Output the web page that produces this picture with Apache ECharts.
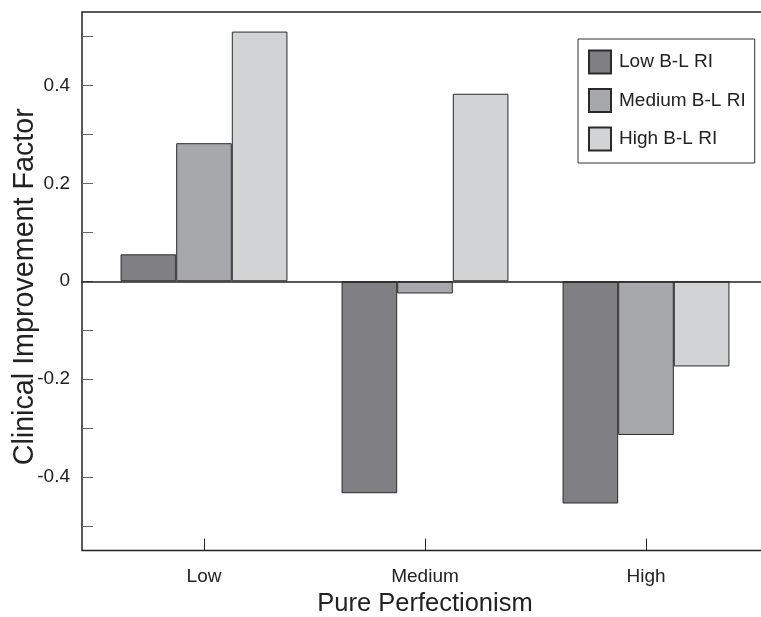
<!DOCTYPE html>
<html>
<head>
<meta charset="utf-8">
<script src="https://cdn.jsdelivr.net/npm/echarts@6/dist/echarts.min.js"></script>
<style>
  html, body { margin: 0; padding: 0; background: #fff; }
  #chart { width: 761px; height: 617px; }
</style>
</head>
<body>
<div id="chart"></div>
<script>
// Pure perfectionism groups on the x axis
const categories = ['Low', 'Medium', 'High'];

// Clinical improvement factor per B-L RI level
const lowBLRI = [0.055, -0.433, -0.454];
const mediumBLRI = [0.282, -0.025, -0.314];
const highBLRI = [0.510, 0.383, -0.174];

const seriesNames = ['Low B-L RI', 'Medium B-L RI', 'High B-L RI'];

// y axis: minor ticks every 0.1, labels every 0.2
const yTicks = [-0.5, -0.4, -0.3, -0.2, -0.1, 0, 0.1, 0.2, 0.3, 0.4, 0.5];
const yLabels = [-0.4, -0.2, 0, 0.2, 0.4];
const yMin = -0.55;
const yMax = 0.55;

const FONT = "'Liberation Sans', Arial, Helvetica, sans-serif";
const INK = '#222';
const fills = ['#808084', '#a7a8ab', '#d2d3d5'];

const chart = echarts.init(document.getElementById('chart'), null, { renderer: 'canvas' });

function barSeries(name, data, color) {
  return {
    name: name,
    type: 'bar',
    xAxisIndex: 1,
    yAxisIndex: 1,
    data: data,
    barGap: '0%',
    barCategoryGap: '24.5%',
    itemStyle: { color: color, borderColor: '#2a2a2a', borderWidth: 1 },
    emphasis: { disabled: true },
    z: 2
  };
}

chart.setOption({
  animation: false,
  backgroundColor: '#fff',
  textStyle: { fontFamily: FONT, color: INK },
  grid: [
    // frame with the y axis and zero line
    { left: 82, top: 12, width: 686, height: 538.5, show: true, borderColor: INK, borderWidth: 1.5,
      backgroundColor: 'transparent', outerBoundsMode: 'none', containLabel: false },
    // bar plotting area
    { left: 93.5, top: 12, width: 663, height: 538.5, outerBoundsMode: 'none', containLabel: false }
  ],
  xAxis: [
    {
      gridIndex: 0, type: 'value', min: 0, max: 1,
      axisLine: { show: true, onZero: true, lineStyle: { color: INK, width: 1.5 } },
      axisTick: { show: false }, axisLabel: { show: false }, splitLine: { show: false },
      z: 5
    },
    {
      gridIndex: 1, type: 'category', data: categories, position: 'bottom',
      axisLine: { show: false, onZero: false },
      axisTick: { show: true, inside: true, alignWithLabel: true, length: 12,
                  lineStyle: { color: INK, width: 1 } },
      axisLabel: { fontSize: 19, color: INK, margin: 17, fontFamily: FONT },
      splitLine: { show: false },
      name: 'Pure Perfectionism', nameLocation: 'middle', nameGap: 40, nameMoveOverlap: false,
      nameTextStyle: { fontSize: 25.5, color: INK, fontFamily: FONT }
    }
  ],
  yAxis: [
    {
      gridIndex: 0, type: 'value', min: yMin, max: yMax,
      axisLine: { show: false },
      axisTick: { show: true, inside: true, length: 11, customValues: yTicks,
                  lineStyle: { color: '#666', width: 1 } },
      axisLabel: { show: true, customValues: yLabels, fontSize: 19, color: INK, margin: 12,
                   fontFamily: FONT,
                   formatter: function (v) { return Math.abs(v) < 1e-9 ? '0' : String(Math.round(v * 10) / 10); } },
      splitLine: { show: false },
      name: 'Clinical Improvement Factor', nameLocation: 'middle', nameGap: 42, nameMoveOverlap: false,
      nameTextStyle: { fontSize: 28.7, color: INK, fontFamily: FONT, padding: [0, 11, 0, 0] }
    },
    {
      gridIndex: 1, type: 'value', min: yMin, max: yMax, show: false,
      splitLine: { show: false }
    }
  ],
  legend: {
    orient: 'vertical',
    left: 578, top: 39,
    data: seriesNames,
    icon: 'rect',
    itemWidth: 22, itemHeight: 23, itemGap: 13.5,
    padding: [10.5, 9, 11.5, 10],
    borderColor: '#333', borderWidth: 1,
    backgroundColor: '#fff',
    textStyle: { fontSize: 19, color: INK, fontFamily: FONT, padding: [0, 0, 0, 3] },
    selectedMode: false
  },
  series: [
    barSeries(seriesNames[0], lowBLRI, fills[0]),
    barSeries(seriesNames[1], mediumBLRI, fills[1]),
    barSeries(seriesNames[2], highBLRI, fills[2])
  ]
});
</script>
</body>
</html>
